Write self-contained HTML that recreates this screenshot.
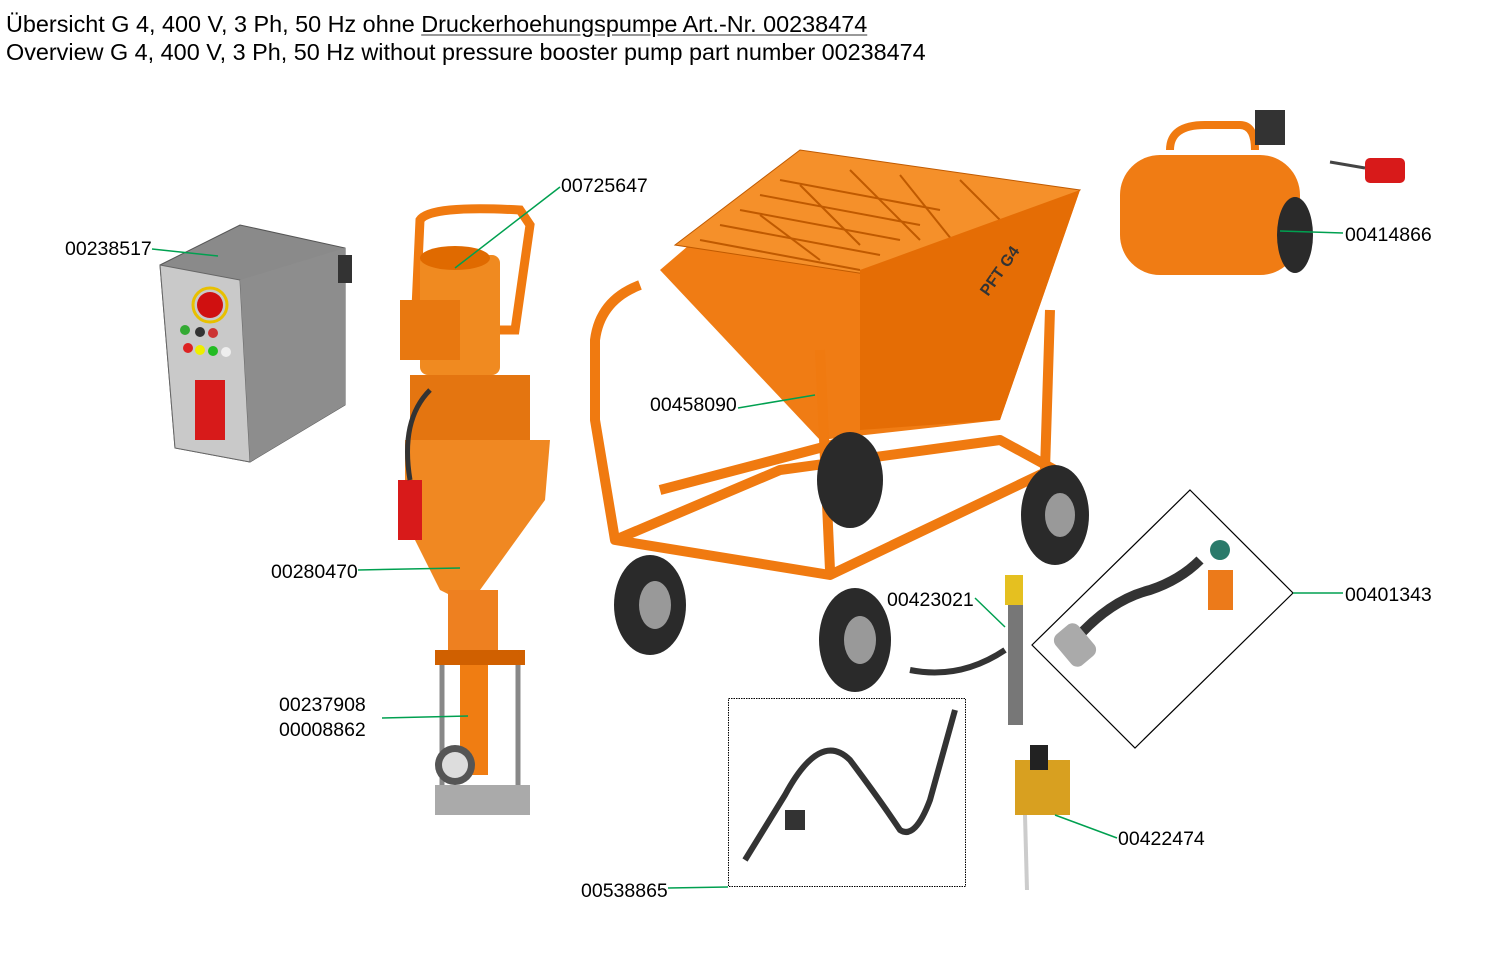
<!DOCTYPE html>
<html><head><meta charset="utf-8"><style>
body{margin:0;background:#fff;width:1496px;height:974px;overflow:hidden;font-family:"Liberation Sans",sans-serif}
.t{position:absolute;left:6px;font-size:23.4px;color:#000;white-space:nowrap}
</style></head><body>
<div class="t" style="top:11px">Übersicht G 4, 400 V, 3 Ph, 50 Hz ohne <span style="text-decoration:underline;text-decoration-color:#999">Druckerhoehungspumpe Art.-Nr. 00238474</span></div>
<div class="t" style="top:39px">Overview G 4, 400 V, 3 Ph, 50 Hz without pressure booster pump part number 00238474</div>
<svg width="1496" height="974" style="position:absolute;left:0;top:0" font-family="Liberation Sans, sans-serif" font-size="19.5">
<!-- control box -->
<polygon points="160,265 240,225 345,248 345,405 250,462 175,448" fill="#8a8a8a" stroke="#555"/>
<polygon points="160,265 240,280 250,462 175,448" fill="#c9c9c9" stroke="#666"/>
<polygon points="240,280 345,248 345,405 250,462" fill="#8d8d8d"/>
<circle cx="210" cy="305" r="13" fill="#d01010"/><circle cx="210" cy="305" r="17" fill="none" stroke="#e8c000" stroke-width="3"/>
<circle cx="185" cy="330" r="5" fill="#3a3"/><circle cx="200" cy="332" r="5" fill="#333"/><circle cx="213" cy="333" r="5" fill="#c33"/>
<circle cx="188" cy="348" r="5" fill="#d22"/><circle cx="200" cy="350" r="5" fill="#ee0"/><circle cx="213" cy="351" r="5" fill="#2b2"/><circle cx="226" cy="352" r="5" fill="#eee"/>
<rect x="195" y="380" width="30" height="60" fill="#d71a1a"/>
<rect x="338" y="255" width="14" height="28" fill="#333"/>
<!-- pump column -->
<path d="M415,330 L420,220 Q430,205 520,210 L530,225 L515,330 Z" fill="none" stroke="#f07a10" stroke-width="9"/>
<rect x="420" y="255" width="80" height="120" rx="8" fill="#f08a20"/>
<ellipse cx="455" cy="258" rx="35" ry="12" fill="#e06a00"/>
<rect x="400" y="300" width="60" height="60" fill="#e87810"/>
<rect x="410" y="375" width="120" height="80" fill="#e47510"/>
<path d="M405,440 L550,440 L545,500 L480,590 L460,600 L440,590 L405,520 Z" fill="#f08822"/>
<rect x="448" y="590" width="50" height="70" fill="#ee8020"/>
<rect x="435" y="650" width="90" height="15" fill="#d06000"/>
<rect x="460" y="665" width="28" height="110" fill="#f07d12"/>
<line x1="442" y1="665" x2="442" y2="790" stroke="#888" stroke-width="5"/><line x1="518" y1="665" x2="518" y2="790" stroke="#888" stroke-width="5"/>
<circle cx="455" cy="765" r="20" fill="#555"/><circle cx="455" cy="765" r="13" fill="#ddd"/>
<rect x="435" y="785" width="95" height="30" fill="#aaa"/>
<rect x="398" y="480" width="24" height="60" fill="#d81a1a"/>
<path d="M410,480 Q400,420 430,390" fill="none" stroke="#333" stroke-width="5"/>
<!-- mixer -->
<polygon points="660,270 800,150 1080,190 1000,420 820,440" fill="#f07c14"/>
<polygon points="675,245 800,150 1080,190 970,290" fill="#f5902a" stroke="#c05a00"/>
<g stroke="#c05a00" stroke-width="2">
<line x1="700" y1="240" x2="860" y2="270"/><line x1="720" y1="225" x2="880" y2="255"/><line x1="740" y1="210" x2="900" y2="240"/><line x1="760" y1="195" x2="920" y2="225"/><line x1="780" y1="180" x2="940" y2="210"/>
<line x1="760" y1="215" x2="820" y2="260"/><line x1="800" y1="185" x2="860" y2="245"/><line x1="850" y1="170" x2="920" y2="240"/><line x1="900" y1="175" x2="960" y2="250"/><line x1="960" y1="180" x2="1020" y2="240"/>
</g>
<polygon points="860,270 1080,190 1000,420 860,430" fill="#e56d05"/>
<text x="975" y="288" font-size="16" font-weight="bold" fill="#333" transform="rotate(-55 990 280)">PFT G4</text>
<g fill="none" stroke="#f07a10" stroke-width="10" stroke-linejoin="round">
<path d="M640,285 Q600,300 595,340 L595,420 L615,540 L830,575 L1050,470"/>
<path d="M615,540 L780,470 L1000,440 L1055,470"/>
<path d="M820,350 L830,570"/><path d="M1050,310 L1045,470"/>
<path d="M660,490 L850,440"/>
</g>
<ellipse cx="650" cy="605" rx="36" ry="50" fill="#2a2a2a"/><ellipse cx="655" cy="605" rx="16" ry="24" fill="#999"/>
<ellipse cx="855" cy="640" rx="36" ry="52" fill="#2a2a2a"/><ellipse cx="860" cy="640" rx="16" ry="24" fill="#999"/>
<ellipse cx="1055" cy="515" rx="34" ry="50" fill="#2a2a2a"/><ellipse cx="1060" cy="515" rx="15" ry="22" fill="#999"/>
<ellipse cx="850" cy="480" rx="33" ry="48" fill="#2a2a2a"/>
<!-- compressor -->
<path d="M1170,150 Q1170,125 1205,125 L1240,125 Q1255,125 1255,150" fill="none" stroke="#f07a10" stroke-width="8"/>
<rect x="1120" y="155" width="180" height="120" rx="40" fill="#f07c14"/>
<ellipse cx="1295" cy="235" rx="18" ry="38" fill="#2a2a2a"/>
<rect x="1255" y="110" width="30" height="35" fill="#333"/>
<rect x="1365" y="158" width="40" height="25" rx="5" fill="#d81a1a"/>
<line x1="1330" y1="162" x2="1365" y2="168" stroke="#444" stroke-width="3"/>
<!-- diamond -->
<polygon points="1190,490 1293,593 1135,748 1032,645" fill="none" stroke="#000" stroke-width="1.2"/>
<path d="M1075,640 Q1110,600 1150,590 Q1180,580 1200,560" fill="none" stroke="#333" stroke-width="10"/>
<rect x="1060" y="625" width="30" height="40" rx="8" fill="#aaa" transform="rotate(-40 1075 645)"/>
<rect x="1208" y="570" width="25" height="40" fill="#ec7a1a"/>
<circle cx="1220" cy="550" r="10" fill="#2a7a6a"/>
<!-- hose 00423021 -->
<rect x="1008" y="575" width="15" height="150" fill="#777"/>
<rect x="1005" y="575" width="18" height="30" fill="#e5c020"/>
<path d="M910,670 Q960,680 1005,650" fill="none" stroke="#333" stroke-width="6"/>
<rect x="1015" y="760" width="55" height="55" fill="#d8a020"/><rect x="1030" y="745" width="18" height="25" fill="#222"/>
<line x1="1025" y1="815" x2="1027" y2="890" stroke="#ccc" stroke-width="4"/>
<!-- dotted box -->
<rect x="728.5" y="698.5" width="237" height="188" fill="none" stroke="#000" stroke-dasharray="1.5,1"/>
<path d="M745,860 L785,795 Q820,730 850,760 Q880,800 900,830 Q915,840 930,800 L955,710" fill="none" stroke="#333" stroke-width="6"/>
<rect x="785" y="810" width="20" height="20" fill="#333"/>
<!-- leader lines -->
<g stroke="#00a050" stroke-width="1.5">
<line x1="152" y1="249" x2="218" y2="256"/>
<line x1="560" y1="187" x2="455" y2="268"/>
<line x1="738" y1="408" x2="815" y2="395"/>
<line x1="358" y1="570" x2="460" y2="568"/>
<line x1="382" y1="718" x2="468" y2="716"/>
<line x1="975" y1="598" x2="1005" y2="627"/>
<line x1="1343" y1="233" x2="1280" y2="231"/>
<line x1="1293" y1="593" x2="1343" y2="593"/>
<line x1="1117" y1="838" x2="1055" y2="815"/>
<line x1="668" y1="888" x2="728" y2="887"/>
</g>
<g fill="#000">
<text x="65" y="255">00238517</text>
<text x="561" y="192">00725647</text>
<text x="650" y="411">00458090</text>
<text x="271" y="578">00280470</text>
<text x="279" y="711">00237908</text>
<text x="279" y="736">00008862</text>
<text x="887" y="606">00423021</text>
<text x="1345" y="241">00414866</text>
<text x="1345" y="601">00401343</text>
<text x="1118" y="845">00422474</text>
<text x="581" y="897">00538865</text>
</g>
</svg>
</body></html>
